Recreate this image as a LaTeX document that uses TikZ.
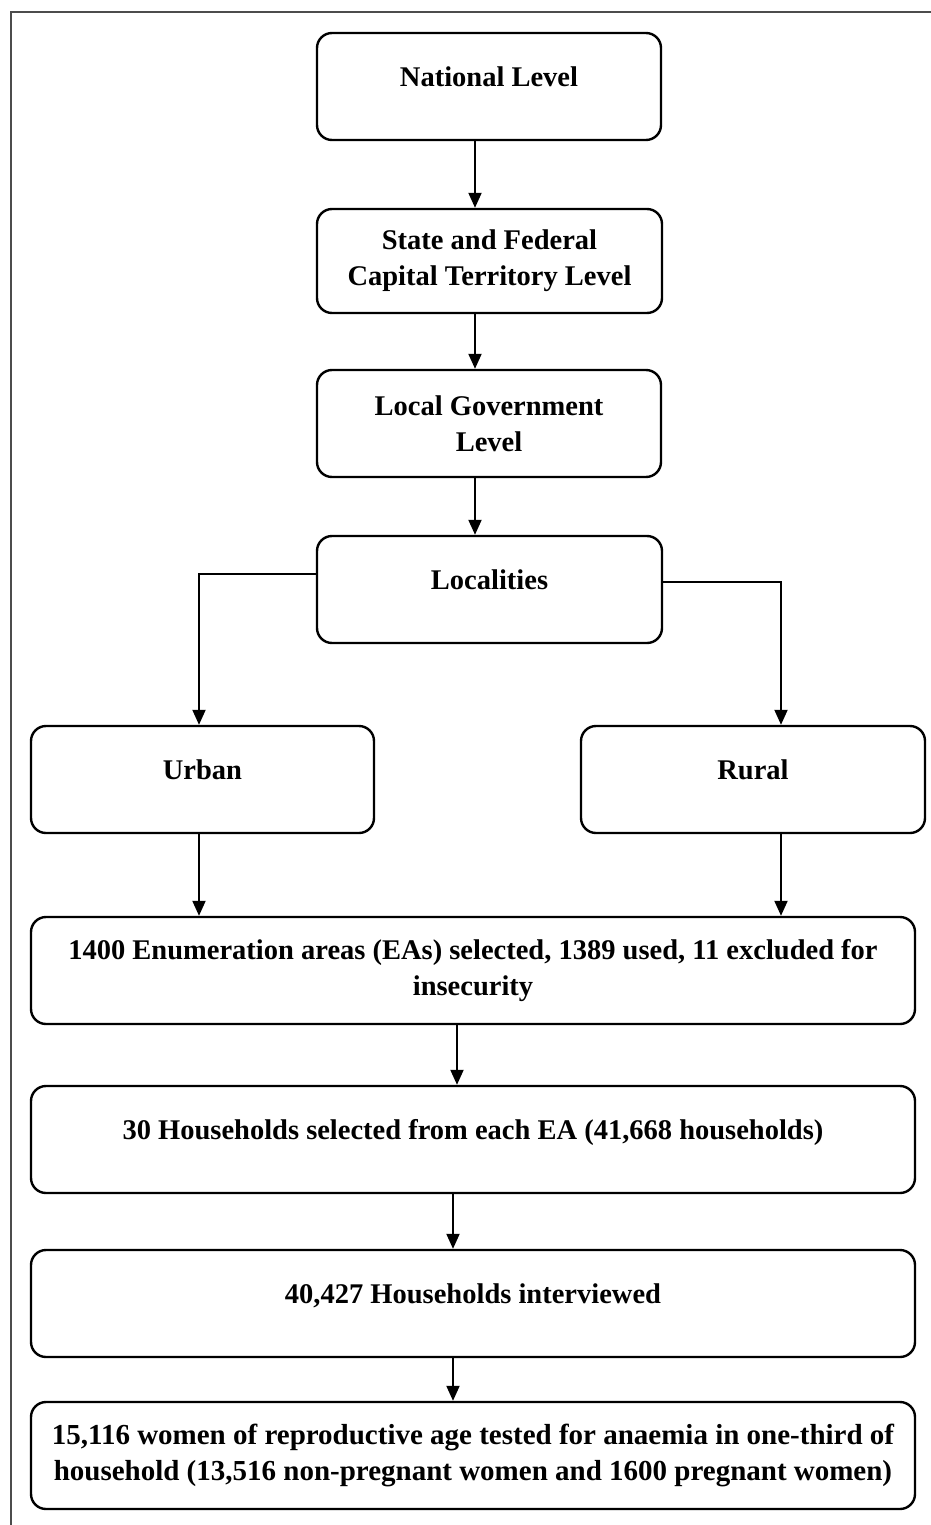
\documentclass[tikz,border=0pt]{standalone}
\usepackage{fontspec}
\setmainfont{Liberation Serif}
\usetikzlibrary{arrows.meta}
\begin{document}
\begin{tikzpicture}[x=1pt,y=-1pt,
  box/.style={draw=black, line width=2.4pt, rounded corners=15pt, inner sep=0pt,
    font=\fontsize{28.5}{36}\selectfont\bfseries},
  one/.style={box, text height=10pt, text depth=10pt},
  two/.style={box, align=center},
  arr/.style={line width=2pt, -{Triangle[length=15pt,width=13pt]}},
  frame/.style={draw=black!70, line width=2pt}
]
\useasboundingbox (0,0) rectangle (931,1525);
\draw[frame] (11,1525) -- (11,12.5) -- (931,12.5);

\node[one, minimum width=344pt, minimum height=107pt] (nat) at (489,86.5) {National Level};
\node[two, minimum width=345pt, minimum height=104pt] (state) at (489.5,261) {State and Federal\\Capital Territory Level};
\node[two, minimum width=344pt, minimum height=107pt] (lga) at (489,423.5) {Local Government\\Level};
\node[one, minimum width=345pt, minimum height=107pt] (loc) at (489.5,589.5) {Localities};
\node[one, minimum width=343pt, minimum height=107pt] (urban) at (202.5,779.5) {Urban};
\node[one, minimum width=344pt, minimum height=107pt] (rural) at (753,779.5) {Rural};
\node[two, minimum width=884pt, minimum height=107pt] (ea) at (473,970.5) {1400 Enumeration areas (EAs) selected, 1389 used, 11 excluded for\\insecurity};
\node[one, minimum width=884pt, minimum height=107pt] (hh) at (473,1139.5) {30 Households selected from each EA (41,668 households)};
\node[one, minimum width=884pt, minimum height=107pt] (int) at (473,1303.5) {40,427 Households interviewed};
\node[two, minimum width=884pt, minimum height=107pt, font=\fontsize{29}{36}\selectfont\bfseries] (wom) at (473,1455.5) {15,116 women of reproductive age tested for anaemia in one-third of\\household (13,516 non-pregnant women and 1600 pregnant women)};

\coordinate (xa) at (475,0);
\coordinate (xl) at (199,574);
\coordinate (xr) at (781,582);
\coordinate (xb) at (457,0);
\coordinate (xc) at (453,0);

\draw[arr] (nat.south -| xa) -- (state.north -| xa);
\draw[arr] (state.south -| xa) -- (lga.north -| xa);
\draw[arr] (lga.south -| xa) -- (loc.north -| xa);
\draw[arr] (loc.west |- xl) -- (xl) -- (urban.north -| xl);
\draw[arr] (loc.east |- xr) -- (xr) -- (rural.north -| xr);
\draw[arr] (urban.south -| xl) -- (ea.north -| xl);
\draw[arr] (rural.south -| xr) -- (ea.north -| xr);
\draw[arr] (ea.south -| xb) -- (hh.north -| xb);
\draw[arr] (hh.south -| xc) -- (int.north -| xc);
\draw[arr] (int.south -| xc) -- (wom.north -| xc);
\end{tikzpicture}
\end{document}
